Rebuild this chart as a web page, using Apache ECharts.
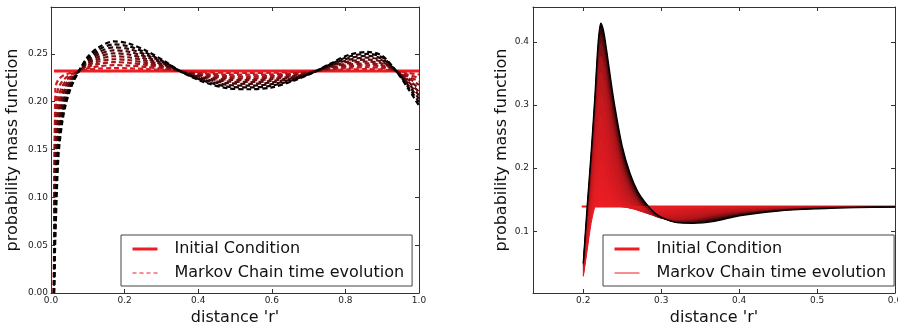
<!DOCTYPE html>
<html><head><meta charset="utf-8">
<script src="https://cdn.jsdelivr.net/npm/echarts@6/dist/echarts.min.js"></script>
<style>html,body{margin:0;padding:0;background:#fff}#c{width:898px;height:328px}</style>
</head><body><div id="c"></div>
<script>
// ---------- LEFT PANEL DATA ----------
const leftX = [0.008, 0.012, 0.02, 0.03, 0.04, 0.05, 0.06, 0.08, 0.10, 0.13, 0.17, 0.21, 0.26, 0.31, 0.36, 0.42, 0.48, 0.54, 0.60, 0.66, 0.71, 0.76, 0.81, 0.86, 0.90, 0.94, 0.97, 1.00];
const leftInitX = [0.008, 1.0];
const leftInitY = [0.232, 0.232];
const leftT = [0.1, 0.2, 0.3, 0.4, 0.5, 0.6, 0.7, 0.8, 0.9, 1.0];
const L1 = [0, 0.2148, 0.2230, 0.2265, 0.2285, 0.2298, 0.2308, 0.2323, 0.2335, 0.2345, 0.2351, 0.2349, 0.2341, 0.2330, 0.2318, 0.2308, 0.2302, 0.2301, 0.2303, 0.2310, 0.2318, 0.2328, 0.2337, 0.2340, 0.2336, 0.2319, 0.2302, 0.2284];
const L2 = [0, 0.1976, 0.2140, 0.2210, 0.2250, 0.2276, 0.2296, 0.2326, 0.2350, 0.2370, 0.2382, 0.2378, 0.2362, 0.2340, 0.2316, 0.2296, 0.2284, 0.2282, 0.2286, 0.2300, 0.2316, 0.2336, 0.2354, 0.2360, 0.2352, 0.2318, 0.2284, 0.2248];
const L3 = [0, 0.1804, 0.2050, 0.2155, 0.2215, 0.2254, 0.2284, 0.2329, 0.2365, 0.2395, 0.2413, 0.2407, 0.2383, 0.2350, 0.2314, 0.2284, 0.2266, 0.2263, 0.2269, 0.2290, 0.2314, 0.2344, 0.2371, 0.2380, 0.2368, 0.2317, 0.2266, 0.2212];
const L4 = [0, 0.1632, 0.1960, 0.2100, 0.2180, 0.2232, 0.2272, 0.2332, 0.2380, 0.2420, 0.2444, 0.2436, 0.2404, 0.2360, 0.2312, 0.2272, 0.2248, 0.2244, 0.2252, 0.2280, 0.2312, 0.2352, 0.2388, 0.2400, 0.2384, 0.2316, 0.2248, 0.2176];
const L5 = [0, 0.1460, 0.1870, 0.2045, 0.2145, 0.2210, 0.2260, 0.2335, 0.2395, 0.2445, 0.2475, 0.2465, 0.2425, 0.2370, 0.2310, 0.2260, 0.2230, 0.2225, 0.2235, 0.2270, 0.2310, 0.2360, 0.2405, 0.2420, 0.2400, 0.2315, 0.2230, 0.2140];
const L6 = [0, 0.1288, 0.1780, 0.1990, 0.2110, 0.2188, 0.2248, 0.2338, 0.2410, 0.2470, 0.2506, 0.2494, 0.2446, 0.2380, 0.2308, 0.2248, 0.2212, 0.2206, 0.2218, 0.2260, 0.2308, 0.2368, 0.2422, 0.2440, 0.2416, 0.2314, 0.2212, 0.2104];
const L7 = [0, 0.1116, 0.1690, 0.1935, 0.2075, 0.2166, 0.2236, 0.2341, 0.2425, 0.2495, 0.2537, 0.2523, 0.2467, 0.2390, 0.2306, 0.2236, 0.2194, 0.2187, 0.2201, 0.2250, 0.2306, 0.2376, 0.2439, 0.2460, 0.2432, 0.2313, 0.2194, 0.2068];
const L8 = [0, 0.0944, 0.1600, 0.1880, 0.2040, 0.2144, 0.2224, 0.2344, 0.2440, 0.2520, 0.2568, 0.2552, 0.2488, 0.2400, 0.2304, 0.2224, 0.2176, 0.2168, 0.2184, 0.2240, 0.2304, 0.2384, 0.2456, 0.2480, 0.2448, 0.2312, 0.2176, 0.2032];
const L9 = [0, 0.0772, 0.1510, 0.1825, 0.2005, 0.2122, 0.2212, 0.2347, 0.2455, 0.2545, 0.2599, 0.2581, 0.2509, 0.2410, 0.2302, 0.2212, 0.2158, 0.2149, 0.2167, 0.2230, 0.2302, 0.2392, 0.2473, 0.2500, 0.2464, 0.2311, 0.2158, 0.1996];
const L10 = [0, 0.060, 0.142, 0.177, 0.197, 0.210, 0.220, 0.235, 0.247, 0.257, 0.263, 0.261, 0.253, 0.242, 0.230, 0.220, 0.214, 0.213, 0.215, 0.222, 0.230, 0.240, 0.249, 0.252, 0.248, 0.231, 0.214, 0.196];
const leftXTicks = [0, 0.2, 0.4, 0.6, 0.8, 1.0];
const leftYTicks = [0, 0.05, 0.10, 0.15, 0.20, 0.25];

// ---------- RIGHT PANEL DATA ----------
const rightX = [0.2, 0.205, 0.21, 0.215, 0.219, 0.2225, 0.226, 0.23, 0.235, 0.24, 0.25, 0.26, 0.27, 0.28, 0.29, 0.30, 0.32, 0.34, 0.37, 0.40, 0.45, 0.50, 0.55, 0.60];
const rightInitX = [0.198, 0.6];
const rightInitY = [0.139, 0.139];
const rightBase = 0.139;
const rightT = [0.01, 0.02, 0.04, 0.06, 0.09, 0.12, 0.16, 0.22, 0.30, 0.45, 0.60, 0.80, 1.0];
const R1 = [0.028, 0.070, 0.112, 0.139, 0.147, 0.150, 0.1480, 0.1448, 0.1420, 0.1403, 0.1387, 0.1381, 0.1380, 0.1381, 0.1384, 0.1385, 0.1388, 0.1389, 0.1390, 0.1390, 0.1390, 0.1390, 0.1390, 0.1390];
const R2 = [0.029, 0.073, 0.118, 0.150, 0.161, 0.165, 0.1608, 0.1539, 0.1472, 0.1431, 0.1389, 0.1372, 0.1367, 0.1368, 0.1371, 0.1377, 0.1383, 0.1386, 0.1389, 0.1390, 0.1390, 0.1390, 0.1390, 0.1390];
const R3 = [0.031, 0.076, 0.124, 0.163, 0.179, 0.185, 0.1787, 0.1676, 0.1563, 0.1486, 0.1403, 0.1365, 0.1350, 0.1348, 0.1352, 0.1358, 0.1372, 0.1380, 0.1386, 0.1389, 0.1390, 0.1390, 0.1390, 0.1390];
const R4 = [0.033, 0.080, 0.130, 0.178, 0.202, 0.212, 0.2034, 0.1878, 0.1711, 0.1584, 0.1439, 0.1368, 0.1339, 0.1325, 0.1325, 0.1330, 0.1354, 0.1367, 0.1380, 0.1386, 0.1389, 0.1390, 0.1390, 0.1390];
const R5 = [0.035, 0.085, 0.140, 0.196, 0.231, 0.245, 0.2343, 0.2139, 0.1911, 0.1721, 0.1503, 0.1392, 0.1329, 0.1302, 0.1295, 0.1297, 0.1319, 0.1345, 0.1368, 0.1379, 0.1388, 0.1390, 0.1390, 0.1390];
const R6 = [0.038, 0.092, 0.152, 0.219, 0.266, 0.285, 0.2726, 0.2478, 0.2178, 0.1931, 0.1613, 0.1441, 0.1340, 0.1291, 0.1262, 0.1258, 0.1272, 0.1311, 0.1347, 0.1367, 0.1383, 0.1389, 0.1390, 0.1390];
const R7 = [0.040, 0.100, 0.165, 0.240, 0.298, 0.320, 0.3069, 0.2795, 0.2446, 0.2161, 0.1742, 0.1511, 0.1377, 0.1292, 0.1252, 0.1230, 0.1234, 0.1263, 0.1318, 0.1351, 0.1375, 0.1386, 0.1388, 0.1390];
const R8 = [0.043, 0.108, 0.180, 0.262, 0.327, 0.352, 0.3386, 0.3091, 0.2707, 0.2382, 0.1890, 0.1591, 0.1422, 0.1310, 0.1250, 0.1209, 0.1199, 0.1220, 0.1289, 0.1330, 0.1366, 0.1381, 0.1387, 0.1390];
const R9 = [0.045, 0.116, 0.193, 0.280, 0.350, 0.378, 0.3646, 0.3338, 0.2929, 0.2572, 0.2020, 0.1680, 0.1473, 0.1332, 0.1251, 0.1208, 0.1174, 0.1191, 0.1257, 0.1307, 0.1354, 0.1376, 0.1386, 0.1388];
const R10 = [0.047, 0.123, 0.204, 0.294, 0.368, 0.398, 0.3847, 0.3531, 0.3104, 0.2725, 0.2127, 0.1754, 0.1519, 0.1364, 0.1262, 0.1209, 0.1158, 0.1168, 0.1227, 0.1287, 0.1343, 0.1370, 0.1383, 0.1387];
const R11 = [0.048, 0.129, 0.212, 0.303, 0.381, 0.412, 0.3989, 0.3670, 0.3231, 0.2836, 0.2207, 0.1810, 0.1555, 0.1389, 0.1275, 0.1211, 0.1147, 0.1151, 0.1204, 0.1273, 0.1336, 0.1365, 0.1381, 0.1387];
const R12 = [0.049, 0.134, 0.218, 0.310, 0.390, 0.422, 0.4094, 0.3778, 0.3338, 0.2934, 0.2282, 0.1867, 0.1593, 0.1420, 0.1292, 0.1217, 0.1140, 0.1137, 0.1181, 0.1258, 0.1328, 0.1360, 0.1378, 0.1386];
const R13 = [0.050, 0.140, 0.223, 0.316, 0.398, 0.430, 0.418, 0.387, 0.343, 0.302, 0.235, 0.192, 0.163, 0.145, 0.131, 0.1225, 0.1135, 0.1125, 0.116, 0.1245, 0.132, 0.1355, 0.1375, 0.1385];
const rightXTicks = [0.2, 0.3, 0.4, 0.5, 0.6];
const rightYTicks = [0.1, 0.2, 0.3, 0.4];

const NAME_INIT = 'Initial Condition';
const NAME_EVO = 'Markov Chain time evolution';
const X_NAME = "distance 'r'";
const Y_NAME = 'probability mass function';

// ---------- STYLE / BUILD ----------
const FONT = 'DejaVu Sans';
const RED = 'rgb(238,29,36)';
const AX = '#333';
function shade(t) { const k = 1 - t; return 'rgb(' + Math.round(238 * k) + ',' + Math.round(29 * k) + ',' + Math.round(36 * k) + ')'; }
function pairs(xs, ys) { return xs.map((x, i) => [x, ys[i]]); }
const leftCurves = [L1, L2, L3, L4, L5, L6, L7, L8, L9, L10];
const rightCurves = [R1, R2, R3, R4, R5, R6, R7, R8, R9, R10, R11, R12, R13];

function mkX(grid, min, max, ticks, pos, labels, name) {
  return {
    type: 'value', gridIndex: grid, min: min, max: max, position: pos,
    axisLine: { show: true, onZero: false, lineStyle: { color: AX, width: 1 } },
    axisTick: { show: true, inside: true, length: 4, customValues: ticks, lineStyle: { color: AX, width: 1 } },
    axisLabel: { show: labels, customValues: ticks, formatter: v => v.toFixed(1), fontSize: 9, color: '#222', margin: 3, fontFamily: FONT },
    splitLine: { show: false },
    name: name || '', nameLocation: 'middle', nameGap: 15,
    nameTextStyle: { fontSize: 16, color: '#111', fontFamily: FONT }
  };
}
function mkY(grid, min, max, ticks, pos, labels, name, dec, gap, margin) {
  return {
    type: 'value', gridIndex: grid, min: min, max: max, position: pos,
    axisLine: { show: true, onZero: false, lineStyle: { color: AX, width: 1 } },
    axisTick: { show: true, inside: true, length: 4, customValues: ticks, lineStyle: { color: AX, width: 1 } },
    axisLabel: { show: labels, customValues: ticks, formatter: v => v.toFixed(dec), fontSize: 9, color: '#222', margin: margin, fontFamily: FONT },
    splitLine: { show: false },
    name: name || '', nameLocation: 'middle', nameGap: gap, nameRotate: 90,
    nameTextStyle: { fontSize: 16, color: '#111', fontFamily: FONT }
  };
}

const series = [];
series.push({ name: NAME_INIT, type: 'line', xAxisIndex: 0, yAxisIndex: 0, data: pairs(leftInitX, leftInitY),
  symbol: 'none', lineStyle: { color: RED, width: 3 }, itemStyle: { color: RED }, z: 2 });
leftCurves.forEach((c, i) => {
  const col = shade(leftT[i]);
  series.push({ name: NAME_EVO, type: 'line', xAxisIndex: 0, yAxisIndex: 0, data: pairs(leftX, c),
    symbol: 'none', smooth: 0.3, lineStyle: { color: col, width: 2.2, type: [5, 3] }, itemStyle: { color: col }, z: 3 });
});
series.push({ name: NAME_INIT, type: 'line', xAxisIndex: 2, yAxisIndex: 2, data: pairs(rightInitX, rightInitY),
  symbol: 'none', lineStyle: { color: RED, width: 2 }, itemStyle: { color: RED }, z: 2 });
// filled bands between each curve and the initial level (fill starts at the 2nd sample)
for (let i = rightCurves.length - 1; i >= 0; i--) {
  const col = shade(rightT[i]);
  series.push({ name: 'fill', type: 'line', xAxisIndex: 2, yAxisIndex: 2,
    data: pairs(rightX.slice(1), rightCurves[i].slice(1)),
    symbol: 'none', smooth: 0.3, lineStyle: { width: 0, opacity: 0 }, itemStyle: { color: col },
    areaStyle: { color: col, opacity: 1, origin: rightBase }, z: 3 });
}
rightCurves.forEach((c, i) => {
  const col = shade(rightT[i]);
  series.push({ name: NAME_EVO, type: 'line', xAxisIndex: 2, yAxisIndex: 2, data: pairs(rightX, c),
    symbol: 'none', smooth: 0.3, lineStyle: { color: col, width: i === rightCurves.length - 1 ? 1.3 : 1 }, itemStyle: { color: col }, z: 4 });
});

function mkLegend(left, evoType) {
  return {
    left: left, top: 235, orient: 'vertical', itemWidth: 25, itemHeight: 16, itemGap: 8,
    padding: [6, 8, 5, 10], borderColor: '#444', borderWidth: 1, borderRadius: 0, backgroundColor: '#fff',
    selectedMode: false,
    itemStyle: { opacity: 0, borderWidth: 0 },
    textStyle: { fontFamily: FONT, fontSize: 16, color: '#111', lineHeight: 16, padding: [0, 0, 0, 12] },
    data: [
      { name: NAME_INIT, lineStyle: { color: RED, width: 3, type: 'solid' }, itemStyle: { opacity: 0, borderWidth: 0 } },
      { name: NAME_EVO, lineStyle: { color: RED, width: 1, type: evoType }, itemStyle: { opacity: 0, borderWidth: 0 } }
    ]
  };
}

const option = {
  animation: false,
  backgroundColor: '#fff',
  textStyle: { fontFamily: FONT },
  grid: [
    { left: 51, top: 7, width: 368, height: 286, outerBoundsMode: 'none', containLabel: false },
    { left: 533, top: 7, width: 362, height: 286, outerBoundsMode: 'none', containLabel: false }
  ],
  xAxis: [
    mkX(0, 0, 1, leftXTicks, 'bottom', true, X_NAME),
    mkX(0, 0, 1, leftXTicks, 'top', false, ''),
    mkX(1, 0.1355, 0.6, rightXTicks, 'bottom', true, X_NAME),
    mkX(1, 0.1355, 0.6, rightXTicks, 'top', false, '')
  ],
  yAxis: [
    mkY(0, 0, 0.299, leftYTicks, 'left', true, Y_NAME, 2, 30, 3),
    mkY(0, 0, 0.299, leftYTicks, 'right', false, '', 2, 0, 3),
    mkY(1, 0.002, 0.4555, rightYTicks, 'left', true, Y_NAME, 1, 23, 4),
    mkY(1, 0.002, 0.4555, rightYTicks, 'right', false, '', 1, 0, 4)
  ],
  legend: [mkLegend(121, [4, 3]), mkLegend(603, 'solid')],
  series: series
};
const chart = echarts.init(document.getElementById('c'), null, { renderer: 'canvas' });
chart.setOption(option);
</script>
</body></html>
